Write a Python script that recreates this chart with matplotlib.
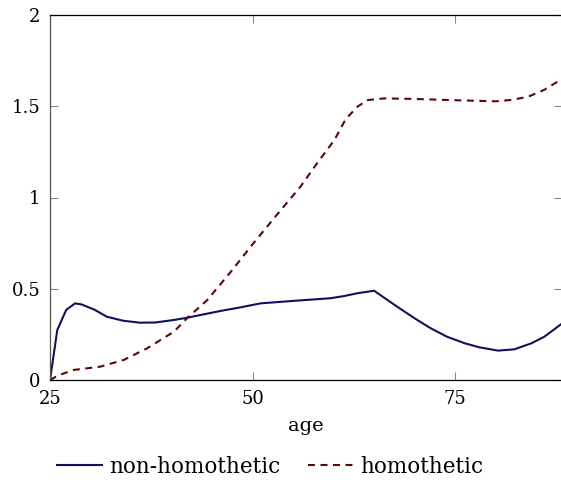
import matplotlib
import matplotlib.pyplot as plt

matplotlib.use('Agg')

plt.rcParams['font.family'] = ['DejaVu Serif']
plt.rcParams['font.size'] = 13
plt.rcParams['lines.scale_dashes'] = False

# non-homothetic series
age_nh = [25, 25.9, 27.0, 28.1, 28.9, 30.5, 32.0, 34, 36.1, 38, 40.3, 41.9, 44, 46, 48.5,
          51, 55.5, 59.6, 61.3, 63, 65.0, 67.9, 70, 72, 74, 76.2, 78, 80.3, 82.3, 84.4, 86, 88.2]
val_nh = [0, 0.274, 0.384, 0.42, 0.414, 0.385, 0.347, 0.325, 0.314, 0.315, 0.329, 0.341, 0.36, 0.378, 0.398,
          0.42, 0.435, 0.448, 0.46, 0.476, 0.489, 0.40, 0.338, 0.283, 0.237, 0.201, 0.179, 0.161, 0.168, 0.201, 0.237, 0.31]

# homothetic series
age_h = [25, 26, 27.9, 31.2, 34.1, 37.0, 40.3, 41.9, 44.4, 47.5, 49.75, 52.8, 55.9, 58, 60.1,
         61.5, 62.95, 64.2, 66.25, 70, 75, 80, 82, 84, 86, 88.2]
val_h = [0, 0.025, 0.055, 0.073, 0.11, 0.174, 0.265, 0.338, 0.438, 0.603, 0.73, 0.895, 1.059, 1.19, 1.315,
         1.43, 1.498, 1.534, 1.543, 1.540, 1.533, 1.527, 1.535, 1.552, 1.59, 1.65]

xticks = [25, 50, 75]
yticks = [0, 0.5, 1, 1.5, 2]
ytick_labels = ['0', '0.5', '1', '1.5', '2']

fig = plt.figure(figsize=(5.61, 4.83), dpi=100)
ax = fig.add_axes([50 / 561, 1 - 380 / 483, 1 - 50 / 561 + 0.002, (380 - 15) / 483])

ax.plot(age_nh, val_nh, color='#10105f', lw=1.5, label='non-homothetic')
ax.plot(age_h, val_h, color='#5e0505', lw=1.5, linestyle=(0, (5, 4)), label='homothetic')

ax.set_xlim(25, 88.2)
ax.set_ylim(0, 2)
ax.set_xticks(xticks)
ax.set_yticks(yticks)
ax.set_yticklabels(ytick_labels)
ax.tick_params(direction='in', length=6, width=0.8, color='#888888', top=True, right=True, pad=7)
ax.set_xlabel('age', fontsize=14, labelpad=7)

ax.spines['right'].set_visible(False)
for s in ['top', 'bottom', 'left']:
    ax.spines[s].set_linewidth(0.9)
ax.spines['left'].set_color('#555555')

# legend sits under the axes, centred a bit left of the figure middle
fig.legend(loc='center', bbox_to_anchor=(270 / 561, 1 - 467 / 483), ncol=2, frameon=False,
           fontsize=15.5, handlelength=2.1, handletextpad=0.33, columnspacing=1.3)

fig.savefig('out.png', dpi=100)
